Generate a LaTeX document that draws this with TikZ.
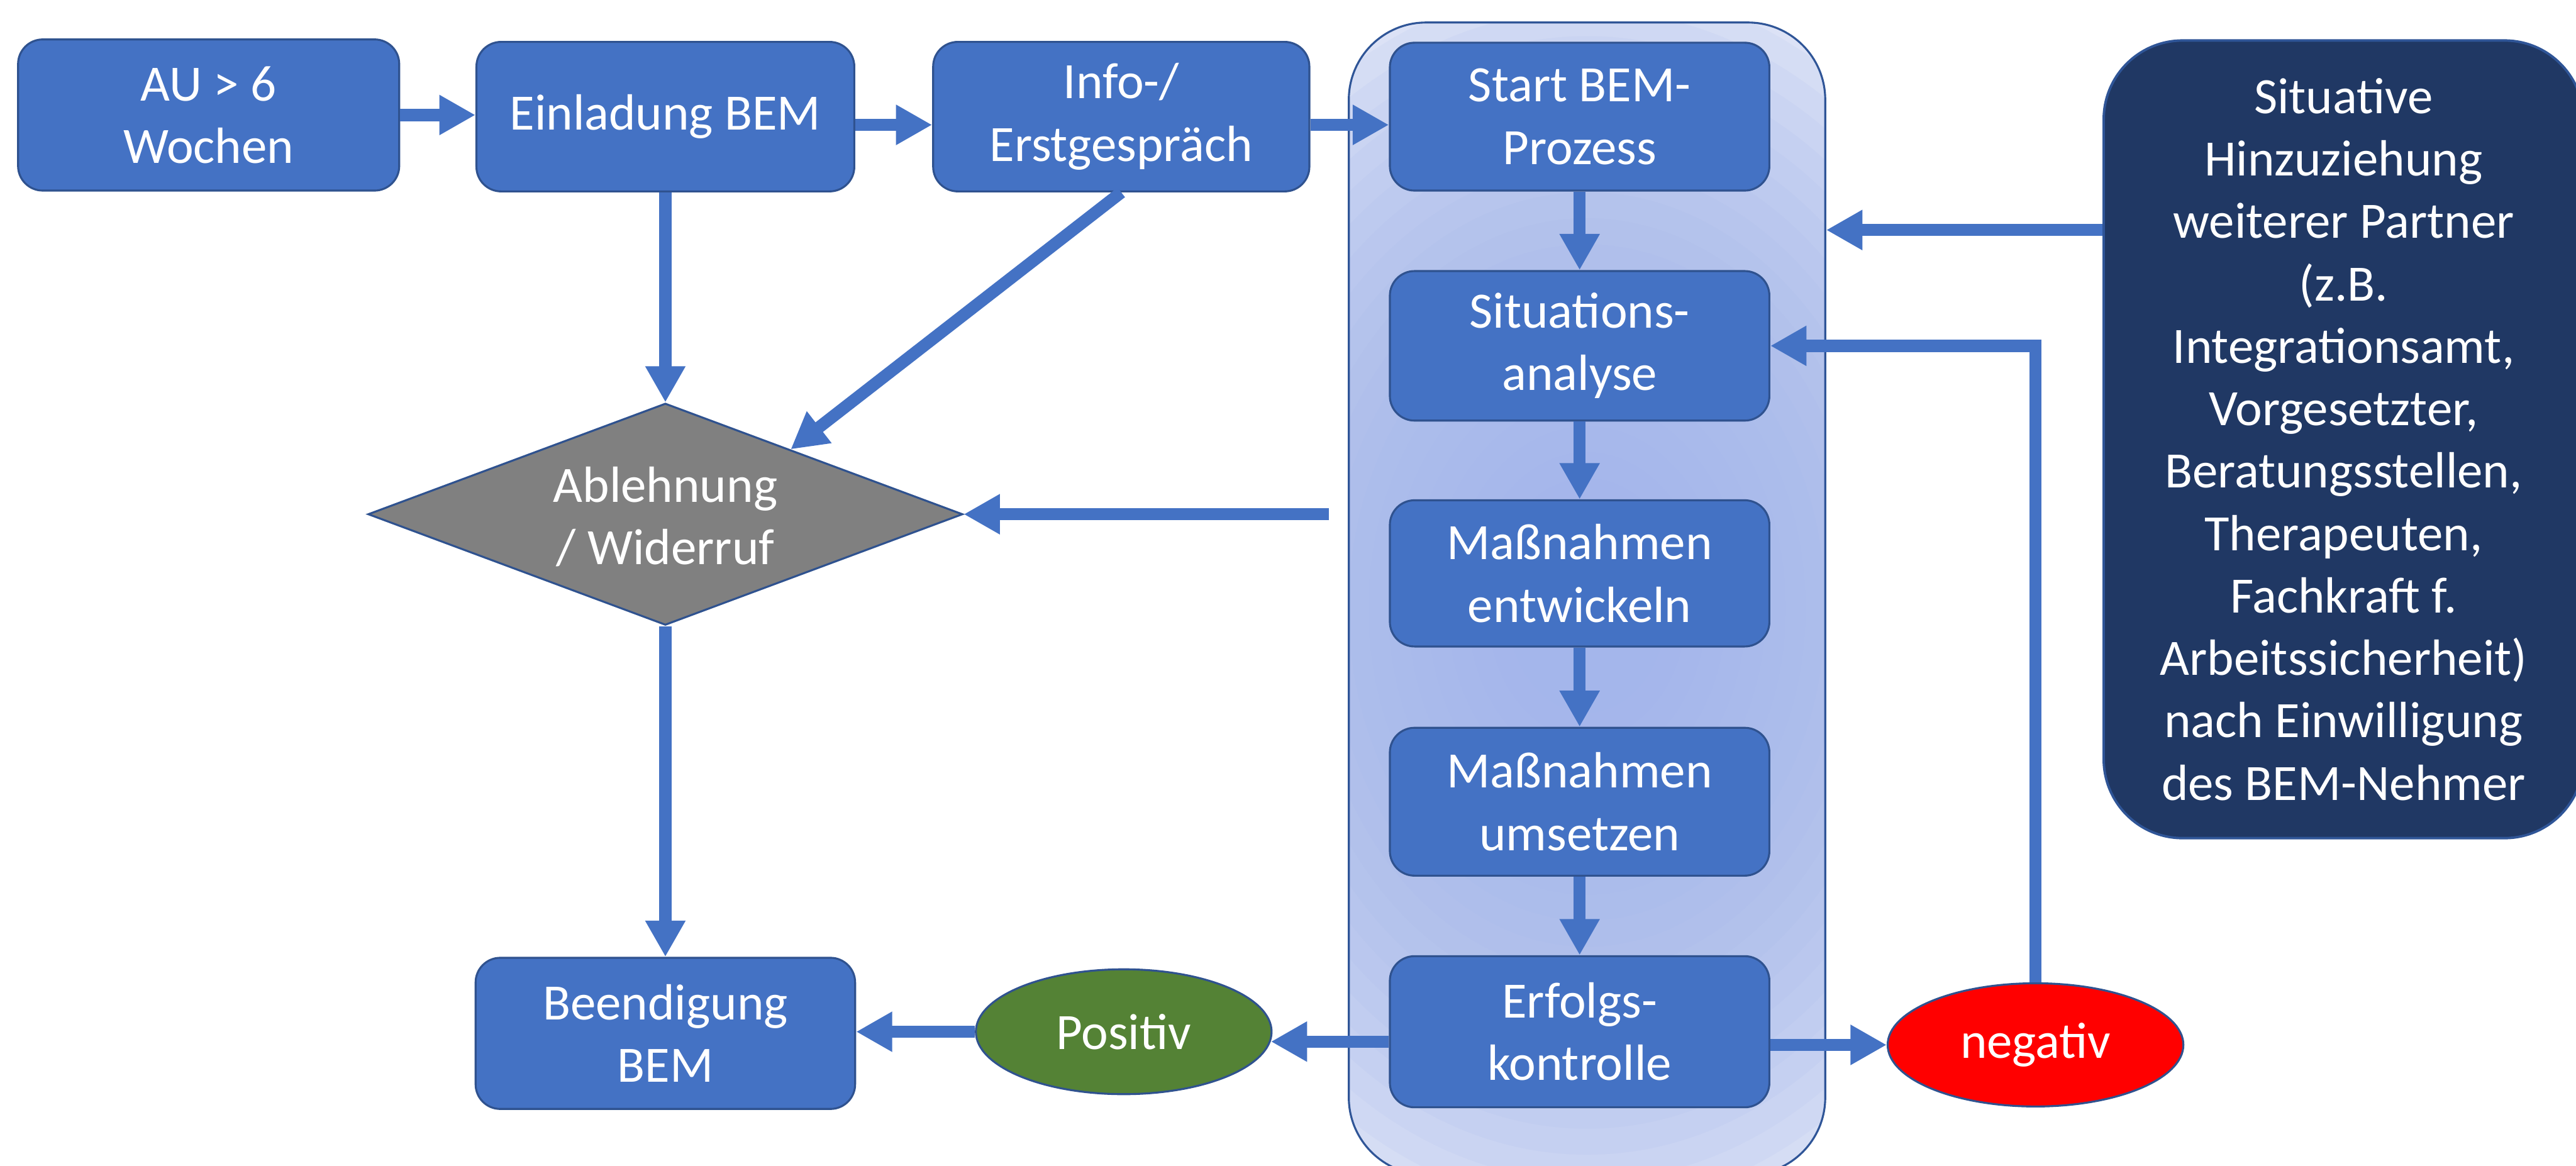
\documentclass[tikz,border=0pt]{standalone}
\usepackage{fontspec}
\newfontfamily\cfont{Carlito}
\usetikzlibrary{arrows.meta,shapes.geometric,calc}
\definecolor{bfill}{HTML}{4472C4}
\definecolor{bdr}{HTML}{2F528F}
\definecolor{acol}{HTML}{4472C4}
\definecolor{navy}{HTML}{203864}
\definecolor{navybdr}{HTML}{2F5597}
\definecolor{grn}{HTML}{548235}
\definecolor{rd}{HTML}{FF0000}
\definecolor{gry}{HTML}{808080}
\definecolor{contin}{HTML}{A4B6EB}
\definecolor{contout}{HTML}{DCE2F6}
\definecolor{contbdr}{HTML}{2F5597}
\begin{document}
\begin{tikzpicture}[x=1pt,y=-1pt,
  txtfont/.style={font=\cfont\fontsize{31}{38}\selectfont},
  box/.style={txtfont, draw=bdr, fill=bfill, line width=1.2pt, rounded corners=15pt,
    minimum width=231pt, minimum height=91pt, text=white, align=center, inner sep=0pt},
  arr/.style={draw=acol, line width=7.4pt, -{Triangle[width=23pt,length=22pt]}},
  contbox/.style={draw=contbdr, fill=contout, line width=1.2pt, rounded corners=47pt,
    path picture={\foreach \k in {1,...,24}{\fill[contin, fill opacity=0.11]
      ([yshift=-6pt]path picture bounding box.center) ellipse [x radius={290pt*(1-(\k-1)/24)}, y radius={380pt*(1-(\k-1)/24)}];}},
    minimum width=290pt, minimum height=701.3pt, inner sep=0pt},
  infobox/.style={txtfont, draw=navybdr, fill=navy, line width=1.5pt, rounded corners=48pt,
    minimum width=292pt, minimum height=485.5pt, text=white, align=center, inner sep=0pt},
  decision/.style={diamond, draw=bdr, fill=gry, line width=1.2pt, minimum width=362pt,
    minimum height=135pt, inner sep=0pt},
  txt/.style={txtfont, text=white, align=center, inner sep=0pt},
  oval/.style={ellipse, txtfont, draw=bdr, line width=1.2pt, text=white, minimum width=180pt,
    minimum height=76pt, inner sep=0pt}
]
\useasboundingbox (0,0) rectangle (1568,709.7);
\clip (0,0) rectangle (1568,709.7);

% container
\node[contbox] (cont) at (966,364.35) {};

% top row
\node[box, minimum width=232pt, minimum height=92pt] (au) at (127,70) {AU > 6\\Wochen};
\node[box, minimum width=230pt] (ein) at (405,71) {Einladung BEM};
\node[box, minimum width=229pt] (info) at (682.5,71) {Info-/\\Erstgespräch};

% process column
\node[box, minimum height=90pt] (start) at (961.5,71) {Start BEM-\\Prozess};
\node[box] (sit) at (961.5,210.5) {Situations-\\analyse};
\node[box, minimum height=89pt] (mae) at (961.5,349) {Maßnahmen\\entwickeln};
\node[box, minimum height=90pt] (mau) at (961.5,488) {Maßnahmen\\umsetzen};
\node[box, minimum height=92pt] (erf) at (961.5,628) {Erfolgs-\\kontrolle};

% left column
\node[decision] (dia) at (405,313) {};
\node[txt] (diatxt) at ([yshift=-1.5pt]dia.center) {Ablehnung\\/ Widerruf};
\node[box, minimum height=92pt] (beend) at (405,629) {Beendigung\\BEM};

% ovals
\node[oval, fill=grn] (pos) at (684,628) {Positiv};
\node[oval, fill=rd, minimum height=75pt] (neg) at (1239,636) {negativ};

% right info box
\node[infobox] (sitv) at (1426.5,267.4) {Situative\\Hinzuziehung\\weiterer Partner\\(z.B.\\Integrationsamt,\\Vorgesetzter,\\Beratungsstellen,\\Therapeuten,\\Fachkraft f.\\Arbeitssicherheit)\\nach Einwilligung\\des BEM-Nehmer};

% helper coordinates
\coordinate (c1) at (809,313);
\coordinate (y140) at (0,140);

% connectors
\draw[arr] (au.east) -- (au.east -| ein.west);
\draw[arr] ([yshift=-5pt]ein.east) -- ([yshift=-5pt]info.west);
\draw[arr] ([yshift=-5pt]info.east) -- ([yshift=-5pt]start.west);
\draw[arr] (ein.south) -- (dia.north);
\draw[arr] (info.south) -- ($(dia.north)!0.42!(dia.east)$);
\draw[arr] (start.south) -- (sit.north);
\draw[arr] (sit.south) -- (mae.north);
\draw[arr] (mae.south) -- (mau.north);
\draw[arr] (mau.south) -- (erf.north);
\draw[arr] (c1) -- (dia.east);
\draw[arr] (sitv.west |- y140) -- (cont.east |- y140);
\draw[arr] (neg.north) |- (sit.east);
\draw[arr] (erf.east |- neg.west) -- (neg.west);
\draw[arr] ([yshift=-6pt]erf.west) -- ([yshift=-6pt,xshift=-1pt]pos.east);
\draw[arr] (pos.west) -- (pos.west -| beend.east);
\draw[arr] (dia.south) -- (beend.north);
\end{tikzpicture}
\end{document}
